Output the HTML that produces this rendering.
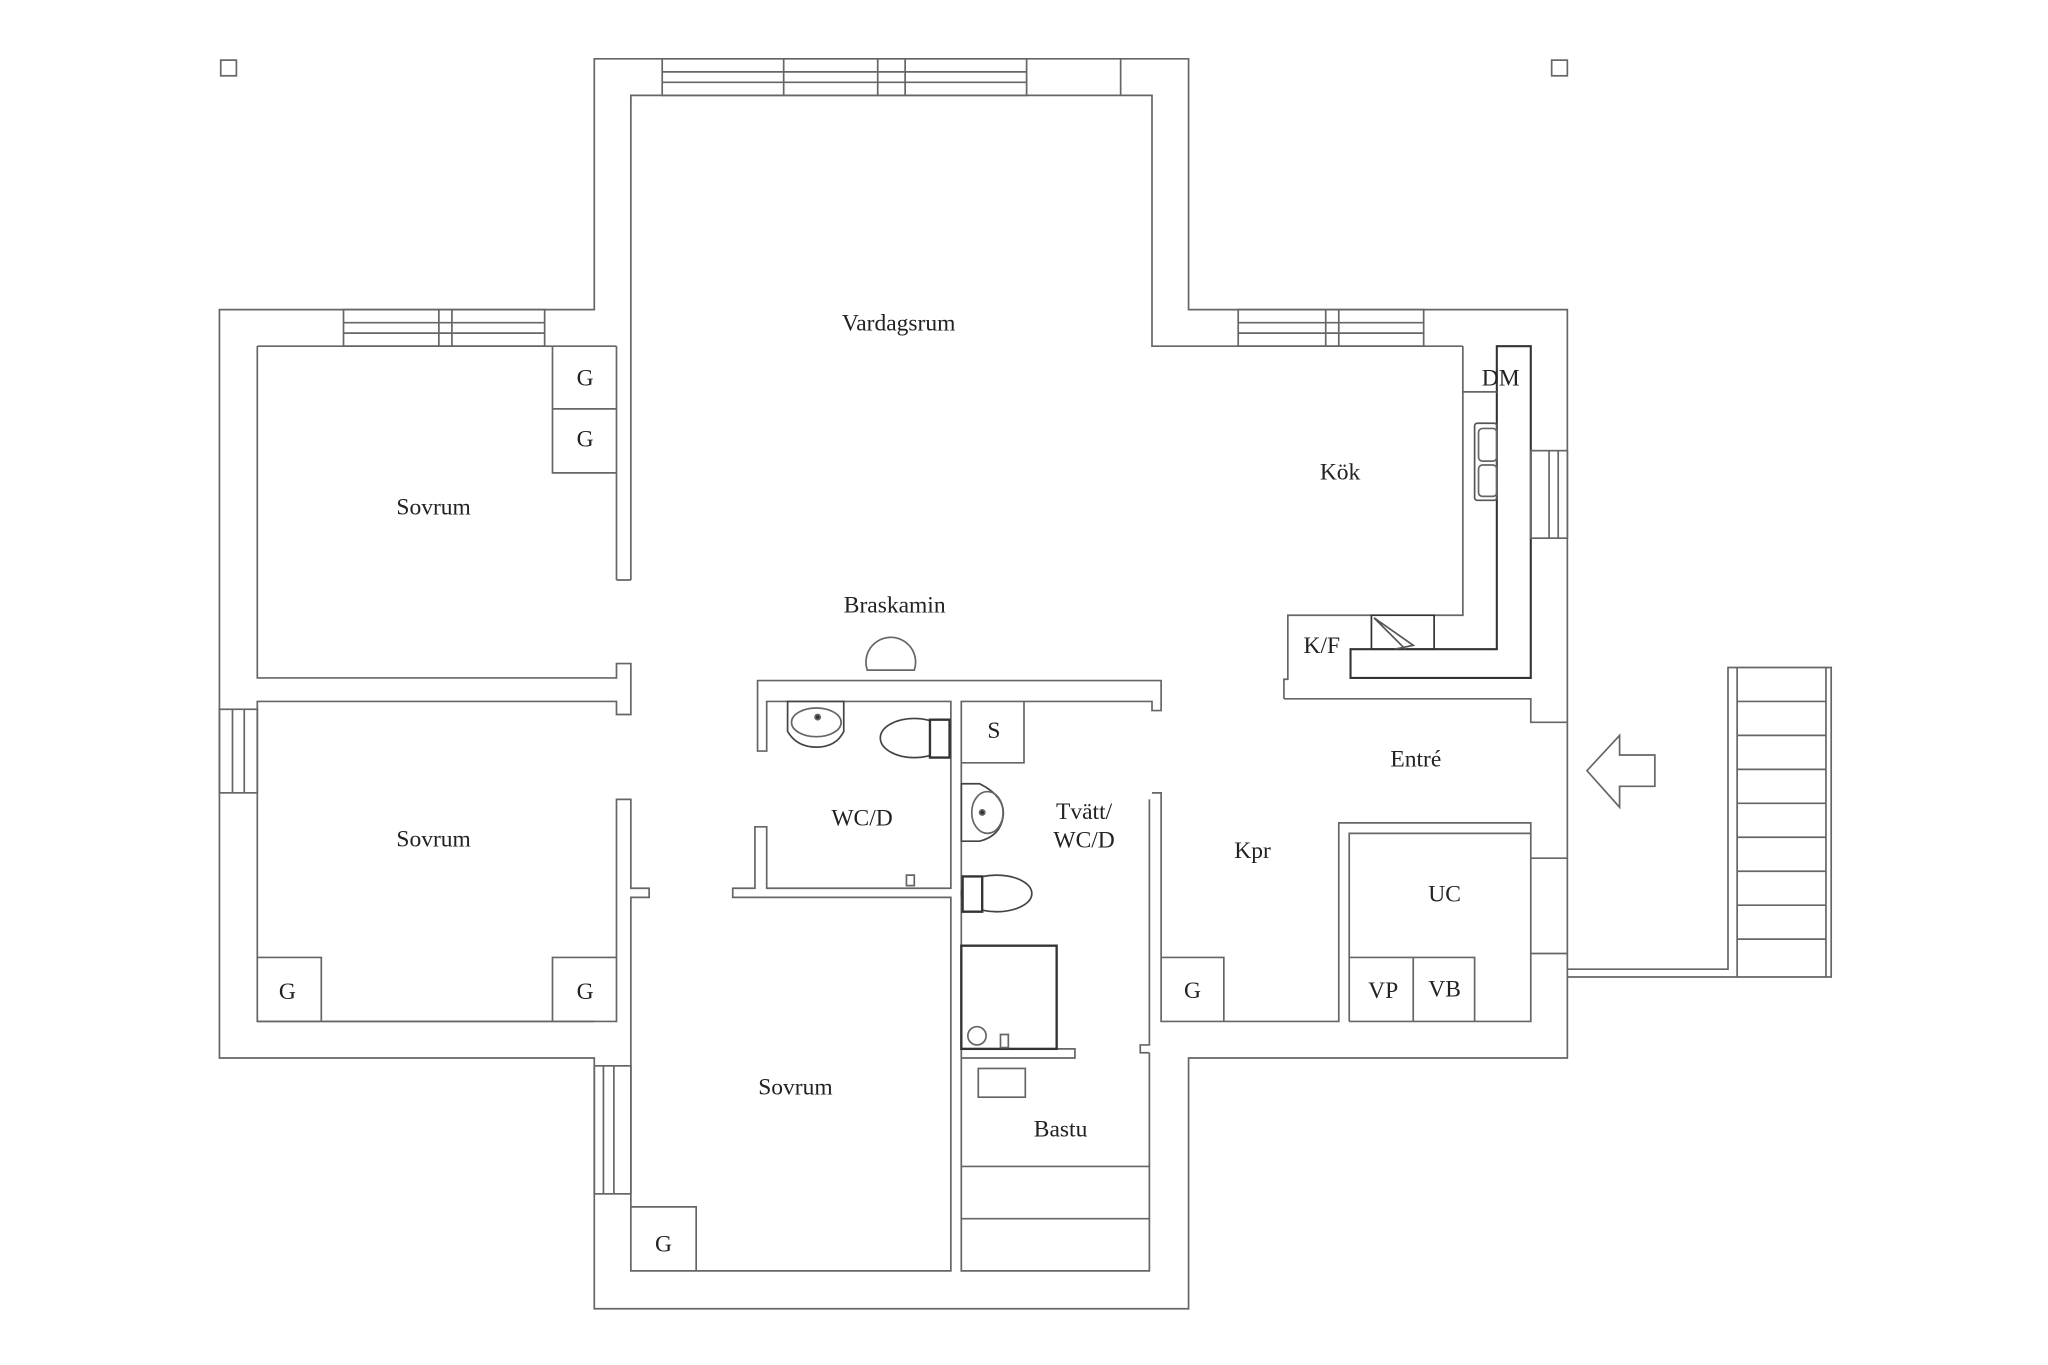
<!DOCTYPE html>
<html><head><meta charset="utf-8"><style>
html,body{margin:0;padding:0;background:#fff;width:2048px;height:1365px;overflow:hidden}
svg{display:block}
text{font-family:"Liberation Serif",serif;font-size:18px;fill:#222;text-anchor:middle}
</style></head><body>
<svg width="2048" height="1365" viewBox="0 0 1568 1045" xmlns="http://www.w3.org/2000/svg">
<g fill="none" stroke="#666" stroke-width="1.3">
<rect x="169" y="46" width="12" height="12"/>
<rect x="1188" y="46" width="12" height="12"/>
<path d="M455,45 H910 V237 H1200 V810 H910 V1002 H455 V810 H168 V237 H455 Z"/>
<rect x="507" y="45" width="279" height="28" fill="#fff"/>
<path d="M600,45V73M693,45V73M507,55H786M507,63H786M672,45V73"/>
<path d="M483,444 V73 H858 V45 M858,73 H882 V265 H1120 M472,444 H483"/>
<path d="M472,265 V444"/>
<rect x="948" y="237" width="142" height="28"/>
<path d="M1015,237V265M1025,237V265M948,247H1090M948,255H1090"/>
<rect x="263" y="237" width="154" height="28"/>
<path d="M336,237V265M346,237V265M263,247H417M263,255H417"/>
<path d="M197,265 H472 M197,265 V519 H472 V508 H483 V547 H472 V537 H197 V782 H472 V612 H483 V680 H497 V687 H483 V782"/>
<path d="M423,265 V362 H472 M423,313 H472"/>
<rect x="168" y="543" width="29" height="64"/>
<path d="M178,543V607M187,543V607"/>
<path d="M197,733 H246 V782 M423,782 V733 H472"/>
<path d="M197,782 H455 M483,782 V973 H728 V687 H561 V680 H578 V633 H587 V680 H728 V537 H587 V575 H580 V521 H889 V544 H882 V537 H736 V973 H880 V806 M736,810 H823 V803 H736"/>
<path d="M483,924 H533 V973"/>
<rect x="455" y="816" width="28" height="98"/>
<path d="M462,816V914M470,816V914"/>
<path d="M736,893 H880 M736,933 H880"/>
<rect x="749" y="818" width="36" height="22"/>
<rect x="736" y="724" width="73" height="79" stroke="#333" stroke-width="1.8"/>
<circle cx="748" cy="793" r="7"/>
<path d="M736,584 H784 V537"/>
<path d="M882,607 H889 V782 H1025 V630 H1172 V657 H1200 M1033,782 V638 H1172 M1172,657 V730 H1200 M1172,730 V782 H1033 M1082,733 V782 M1033,733 H1129 V782 M889,733 H937 V782"/>
<path d="M880,806 H873 V800 H880 V612"/>
<path d="M983,535 V520 H986 V471 H1034 M983,535 H1172 V553 H1200 M1172,519 H1034"/>
<path d="M1120,265 V471 H1098 M1034,471 H1050"/>
<path d="M1034,519 V497 H1146 V265 H1172 V519 Z" stroke="#333" stroke-width="1.6"/>
<rect x="1050" y="471" width="48" height="26" stroke="#333"/>
<path d="M1052,473 L1082,494 L1068,497 M1052,473 L1076,497" stroke="#555"/>
<path d="M1120,300 H1146"/>
<rect x="1129" y="324" width="17" height="59" rx="2" stroke="#555"/>
<rect x="1132" y="328" width="14" height="25" rx="3"/>
<rect x="1132" y="356" width="14" height="24" rx="3"/>
<rect x="1172" y="345" width="28" height="67"/>
<path d="M1186,345V412M1193,345V412"/>
<path d="M1200,742 H1323 V511 H1402 V748 H1200 M1330,511 V748"/>
<path d="M1330,537H1398M1330,563H1398M1330,589H1398M1330,615H1398M1330,641H1398M1330,667H1398M1330,693H1398M1330,719H1398M1398,511V748"/>
<path d="M1215,590 L1240,563 V578 H1267 V602 H1240 V618 Z"/>
<path d="M664,513 A19,19 0 1,1 700,513 Z"/>
<path d="M603,537 H646 V560 Q640,572 625,572 Q610,572 603,560 Z" stroke="#444"/>
<ellipse cx="625" cy="553" rx="19" ry="11"/>
<circle cx="626" cy="549" r="2" fill="#333"/>
<ellipse cx="700" cy="565" rx="26" ry="15" stroke="#444"/>
<path d="M712,551 H727 V580 H712 Z" stroke="#333" stroke-width="1.8" fill="#fff"/>
<path d="M736,600 H750 Q770,610 768,625 Q766,640 750,644 H736 Z" stroke="#444"/>
<ellipse cx="756" cy="622" rx="12" ry="16"/>
<circle cx="752" cy="622" r="2" fill="#333"/>
<ellipse cx="763" cy="684" rx="27" ry="14" stroke="#444"/>
<path d="M737,671 H752 V698 H737 Z" stroke="#333" stroke-width="1.8" fill="#fff"/>
<path d="M694,670 h6 v8 h-6 Z M766,792 h6 v10 h-6Z"/>
</g>
<text x="688" y="253">Vardagsrum</text>
<text x="332" y="394">Sovrum</text>
<text x="332" y="648">Sovrum</text>
<text x="609" y="838">Sovrum</text>
<text x="448" y="295">G</text>
<text x="448" y="342">G</text>
<text x="220" y="765">G</text>
<text x="448" y="765">G</text>
<text x="508" y="958">G</text>
<text x="913" y="764">G</text>
<text x="1149" y="295">DM</text>
<text x="1026" y="367">Kök</text>
<text x="1012" y="500">K/F</text>
<text x="685" y="469">Braskamin</text>
<text x="761" y="565">S</text>
<text x="660" y="632">WC/D</text>
<text x="830" y="627">Tvätt/</text>
<text x="830" y="649">WC/D</text>
<text x="959" y="657">Kpr</text>
<text x="1084" y="587">Entré</text>
<text x="1106" y="690">UC</text>
<text x="1059" y="764">VP</text>
<text x="1106" y="763">VB</text>
<text x="812" y="870">Bastu</text>
</svg>
</body></html>
